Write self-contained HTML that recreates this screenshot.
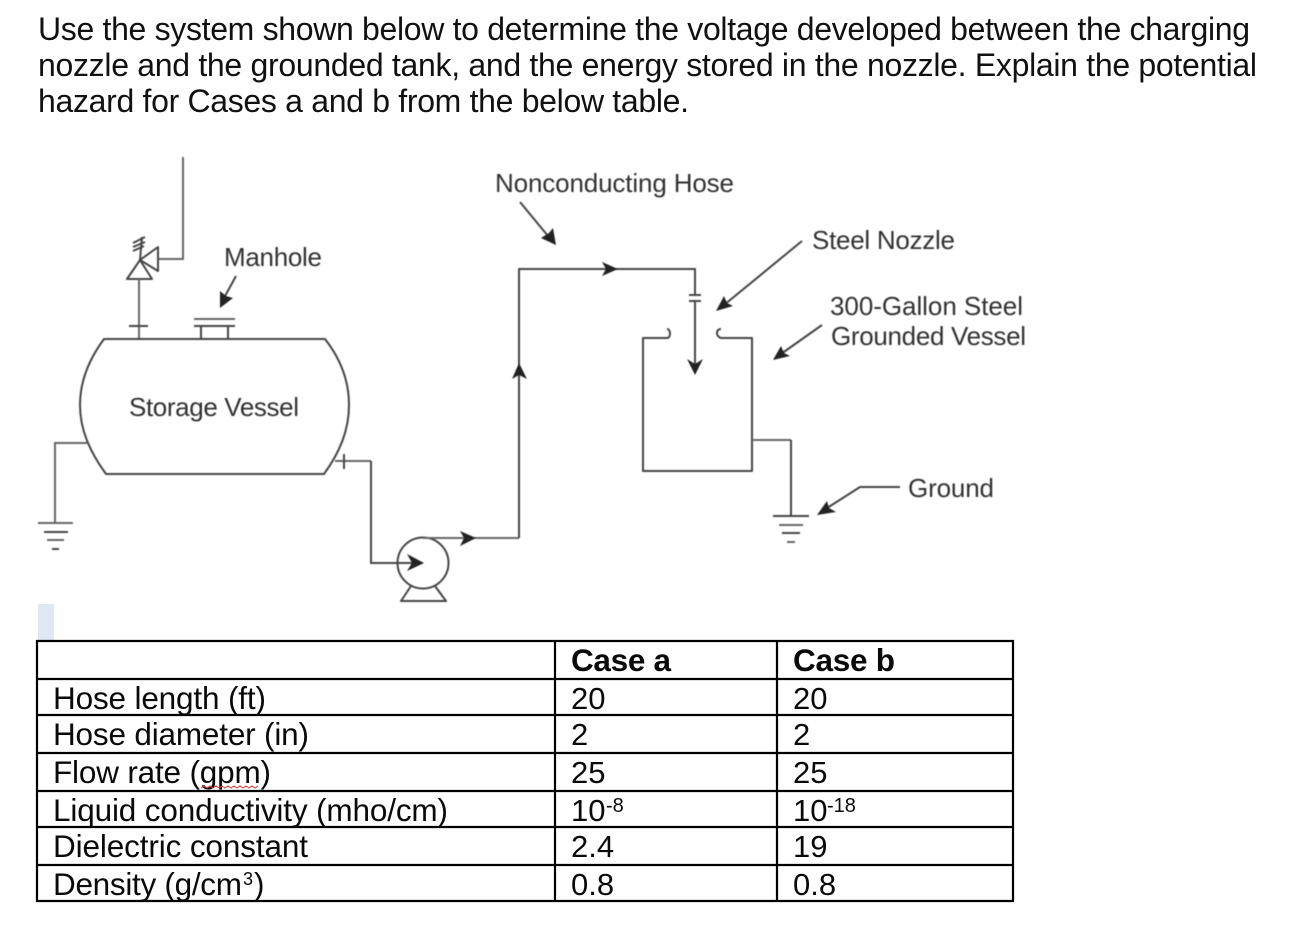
<!DOCTYPE html>
<html>
<head>
<meta charset="utf-8">
<style>
html,body{margin:0;padding:0;background:#fff;width:1302px;height:932px;overflow:hidden}
svg{display:block}
text{font-family:"Liberation Sans",sans-serif}
.h{font-size:32px;fill:#111}
.t{font-size:31.5px;fill:#0a0a0a}
.d{font-size:31px;fill:#0a0a0a}
.l{font-size:26px;fill:#333}
.s{font-size:20px;fill:#0a0a0a}
.p{fill:none;stroke:#444;stroke-width:2;stroke-linejoin:round}
.g{fill:none;stroke:#666;stroke-width:2}
.a{fill:#222;stroke:none}
.b{stroke:#000;stroke-width:2.2;fill:none}
</style>
</head>
<body>
<svg width="1302" height="932" viewBox="0 0 1302 932" xmlns="http://www.w3.org/2000/svg">
<defs><filter id="soft" x="-5%" y="-5%" width="110%" height="110%"><feGaussianBlur stdDeviation="0.45"/></filter></defs>
<rect width="1302" height="932" fill="#fff"/>

<text class="h" x="38" y="40" textLength="1212" lengthAdjust="spacing">Use the system shown below to determine the voltage developed between the charging</text>
<text class="h" x="38" y="76" textLength="1219" lengthAdjust="spacing">nozzle and the grounded tank, and the energy stored in the nozzle. Explain the potential</text>
<text class="h" x="38" y="112" textLength="651" lengthAdjust="spacing">hazard for Cases a and b from the below table.</text>

<g filter="url(#soft)">
<!-- Vent pipe and valve -->
<path class="g" d="M183 157V259H158"/>
<path class="p" d="M158 247V271L140 260Z"/>
<path class="p" d="M140 260L127 279H152Z"/>
<path class="g" d="M139 279V339"/>
<path class="p" d="M129 326H148"/>
<path class="p" d="M140 260L142 237" stroke-width="1.5"/>
<path class="p" stroke-width="1.5" d="M133 243L145 237M133 247L145 242M133 251L144 246"/>

<!-- Manhole -->
<path class="g" d="M194 319H235"/>
<path class="p" d="M194 326H235M201 326V339M228 326V339"/>
<path class="p" d="M236 276L224 298"/>
<path class="a" d="M220 308L220 291L226 296L233 298Z"/>

<!-- Storage vessel -->
<path class="p" d="M104 339H325C343 362 349 385 349 405C349 430 340 452 324 474H106C90 452 80 430 80 405C80 385 87 362 104 339Z"/>

<!-- Left ground -->
<path class="g" d="M87 443H55V523"/>
<path class="g" d="M38 523H73"/>
<path class="p" d="M44 532H68"/>
<path class="g" d="M47 540H64"/>
<path class="p" d="M52 549H59"/>

<!-- Suction line and pump -->
<path class="g" d="M335 461H371"/>
<path class="p" d="M344 454V469M371 461V563H412"/>
<path class="a" d="M424 563L407 554L412 563L407 571Z"/>
<circle class="p" cx="423" cy="563" r="25.5"/>
<path class="p" d="M411 586L401 601H446L435 586"/>

<!-- Discharge line and hose -->
<path class="g" d="M423 538H519"/>
<path class="a" d="M476 538L460 531L464 538L460 546Z"/>
<path class="p" d="M519 538V269H695V294"/>
<path class="a" d="M519 363L512 379L519 375L527 379Z"/>
<path class="a" d="M618 269L602 262L606 269L602 276Z"/>
<path class="p" d="M520 202L548 236"/>
<path class="a" d="M556 245L541 238L549 233L553 228Z"/>

<!-- Nozzle -->
<path class="p" d="M689 295H701M689 301H701M695 301V365"/>
<path class="a" d="M695 375L687 359L695 364L703 359Z"/>
<path class="p" d="M802 241L724 305"/>
<path class="a" d="M716 311L724 296L727 303L733 306Z"/>

<!-- Grounded tank -->
<path class="p" d="M667 329C671 329 671 338 667 338H643V471H752V338H722C716 338 715 329 721 329"/>
<path class="p" d="M822 325L781 354"/>
<path class="a" d="M773 360L781 346L784 353L790 356Z"/>
<path class="g" d="M752 440H791"/>
<path class="p" d="M791 440V516M773 516H809"/>
<path class="g" d="M779 525H803"/>
<path class="p" d="M782 533H800"/>
<path class="g" d="M787 542H795"/>
<path class="p" d="M900 487H860L824 510"/>
<path class="a" d="M817 515L827 501L829 508L836 512Z"/>

<!-- Diagram labels -->
<text class="l" x="224" y="266" textLength="98" lengthAdjust="spacing">Manhole</text>
<text class="l" x="129" y="416" textLength="170" lengthAdjust="spacing">Storage Vessel</text>
<text class="l" x="495" y="192" textLength="239" lengthAdjust="spacing">Nonconducting Hose</text>
<text class="l" x="812" y="249" textLength="143" lengthAdjust="spacing">Steel Nozzle</text>
<text class="l" x="830" y="315" textLength="193" lengthAdjust="spacing">300-Gallon Steel</text>
<text class="l" x="831" y="345" textLength="195" lengthAdjust="spacing">Grounded Vessel</text>
<text class="l" x="908" y="497" textLength="86" lengthAdjust="spacing">Ground</text>
</g>

<!-- Highlight -->
<rect x="38" y="604" width="16" height="37" fill="#e0e7f3"/>

<!-- Table -->
<path class="b" d="M37 641H1013V901H37ZM37 679H1013M37 715H1013M37 753H1013M37 791H1013M37 827H1013M37 865H1013M555 641V901M777 641V901"/>

<text class="t" x="53" y="709" textLength="213" lengthAdjust="spacing">Hose length (ft)</text>
<text class="t" x="53" y="745" textLength="256" lengthAdjust="spacing">Hose diameter (in)</text>
<text class="t" x="53" y="783" textLength="218" lengthAdjust="spacing">Flow rate (gpm)</text>
<text class="t" x="53" y="821" textLength="395" lengthAdjust="spacing">Liquid conductivity (mho/cm)</text>
<text class="t" x="53" y="857" textLength="255" lengthAdjust="spacing">Dielectric constant</text>
<text class="t" x="53" y="895" textLength="189" lengthAdjust="spacing">Density (g/cm</text>
<text class="s" x="243" y="885" style="font-size:18px">3</text>
<text class="t" x="254" y="895">)</text>

<path d="M201 788l3 -2 3 2 3 -2 3 2 3 -2 3 2 3 -2 3 2 3 -2 3 2 3 -2 3 2 3 -2 3 2 3 -2 3 2 3 -2 3 2 3 -2" fill="none" stroke="#e0352b" stroke-width="1"/>

<text class="t" x="571" y="671" font-weight="bold" textLength="100" lengthAdjust="spacing">Case a</text>
<text class="t" x="793" y="671" font-weight="bold" textLength="102" lengthAdjust="spacing">Case b</text>

<text class="d" x="571" y="709">20</text>
<text class="d" x="571" y="745">2</text>
<text class="d" x="571" y="783">25</text>
<text class="d" x="571" y="821">10</text>
<text class="s" x="606" y="812">-8</text>
<text class="d" x="571" y="857">2.4</text>
<text class="d" x="571" y="895">0.8</text>

<text class="d" x="793" y="709">20</text>
<text class="d" x="793" y="745">2</text>
<text class="d" x="793" y="783">25</text>
<text class="d" x="793" y="821">10</text>
<text class="s" x="827" y="812">-18</text>
<text class="d" x="793" y="857">19</text>
<text class="d" x="793" y="895">0.8</text>
</svg>
</body>
</html>
